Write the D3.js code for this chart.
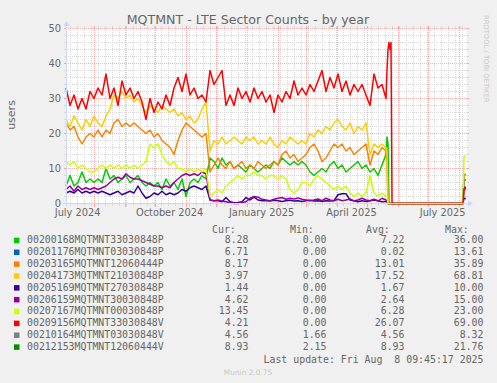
<!DOCTYPE html>
<html><head><meta charset="utf-8">
<script src="https://cdn.jsdelivr.net/npm/d3@7/dist/d3.min.js"></script>
<style>html,body{margin:0;padding:0;background:#F0F0F0;}svg{display:block}text{white-space:pre}</style>
</head><body>
<svg id="chart" width="497" height="383"></svg>
<script>
// ---------- data ----------
const seriesNames = ["00200168MQTMNT33030848P","00201176MQTMNT03030848P","00203165MQTMNT12060444P","00204173MQTMNT21030848P","00205169MQTMNT27030848P","00206159MQTMNT30030848P","00207167MQTMNT00030848P","00209156MQTMNT33030848V","00210164MQTMNT03030848V","00212153MQTMNT12060444V"];
const seriesColors = ["#00CC00","#0066B3","#FF8000","#FFCC00","#330099","#990099","#CCFF00","#FF0000","#808080","#008F00"];
const curValues = ["8.28","6.71","8.17","3.97","1.44","4.62","13.45","4.21","4.56","8.93"];
const minValues = ["0.00","0.00","0.00","0.00","0.00","0.00","0.00","0.00","1.66","2.15"];
const avgValues = ["7.22","0.02","13.01","17.52","1.67","2.64","6.28","26.07","4.56","8.93"];
const maxValues = ["36.00","13.61","35.89","68.81","10.00","15.00","23.00","69.00","8.32","21.76"];
const yTickValues = [0,10,20,30,40,50];
const xTickLabels = ["July 2024","October 2024","January 2025","April 2025","July 2025"];
const xTickMonths = ["2024-07","2024-10","2025-01","2025-04","2025-07"];
const lastUpdate = "Last update: Fri Aug  8 09:45:17 2025";

// samples every 4 days from the start of the graph window
const sampleStepDays = 4;
const greenMain = [5,8,5,6,9,6,7,6,7,6, 10,7,8,6,7,8,6,7,8,6, 5,6,5,6,4,7,5,6,4,7, 2,6,7,6,8,7,13,12,10,13, 11,12,10,11,10,9,11,10,9,10, 11,10,12,11,13,12,11,12,11,12, 11,9,8,9,10,9,11,12,10,11, 9,10,11,12,10,11,9,10,8,11, 14];
const blueMain = [];
const orangeMain = [23,21,22,19,17,19,20,19,21,19, 21,20,23,24,22,23,22,23,22,21, 20,21,19,20,18,17,16,14,18,21, 23,22,21,20,19,20,9,11,13,11, 10,12,10,11,12,10,11,10,12,11, 10,11,12,11,14,15,13,14,12,13, 14,16,17,15,12,13,15,17,16,17, 15,16,14,15,16,17,11,15,14,16, 15];
const yellowMain = [24,22,25,23,21,24,22,25,23,22, 25,27,31,30,32,30,31,29,30,28, 26,28,27,26,28,27,26,27,25,26, 24,25,23,24,27,29,15,18,17,19, 17,18,19,18,17,19,18,19,17,18, 17,19,17,16,18,17,19,18,17,18, 17,20,19,21,20,22,21,23,24,22, 21,23,20,22,21,23,14,17,16,17, 16];
const indigoMain = [3,3.5,3,4,3,3.5,3,3.5,3,3.5, 3,2.5,3,3.5,2.5,3,3.5,3,5,3, 1.5,2,3,2.5,3.5,2.5,3,2.5,3,4, 3.5,4.5,5,4.5,4,5,1,0.8,0.8,0.5, 1.7,0.5,0.2,0.3,0.5,1.7,1,1.8,1,0.8, 0.8,0.7,0.9,0.8,0.6,0.8,0.9,0.7,0.8,0.6, 0.8,0.9,0.7,0.8,0.6,0.8,0.7,0.8,2.5,2.8, 2.8,1,0.8,0.5,0.8,0.6,0.8,1,0.8,0.5, 0.6];
const purpleMain = [4,5,3.5,5,4,4.5,4,4.5,4,4.5, 5,6,7,7.5,7,8.5,7.5,7,7,6.5, 6,5.5,5,5,4.5,5,4.5,6,7,8, 8.5,8,8.5,8,9,8.5,1,0.8,1,0.7, 0.5,0.2,0,0,0.3,0.5,1.5,2,1.8,1.2, 1,0.8,1.2,1.5,1.7,1.2,1.5,1.3,1.6,1.2, 1,0.8,1,1.3,0.8,1.5,1,0.8,1.2,0.8, 1,1.3,0.7,1,1.5,1,0.8,1.2,0.7,1.5, 1];
const limeMain = [12,11,12,10,11,10,9,9,10,11, 10,11,10,11,10,11,10,11,10,11, 12,17,16,17,14,12,11,12,10,10, 9,10,9,10,9,10,2,3,4,3, 5,6,7,8,7,8,8,9,8,8, 7,8,8,7,8,7,4,3,4,6, 6,5,7,8,7,6,5,4,5,4, 5,3,2,3,2,3,8,3,2,3, 2];
const redMain = [33,28,31,27,30,27,32,30,33,31, 37,30,33,28,35,31,33,30,32,29, 24,30,26,29,27,31,28,33,36,32, 37,31,33,30,31,29,38,34,36,38, 28,31,28,33,30,32,29,33,30,32, 29,31,26,31,29,32,30,35,31,33, 31,34,32,35,38,32,36,33,37,32, 35,31,34,32,34,31,28,37,33,34, 30];
const grayMain = [];
const darkGreenMain = [];

// tail: days after the start of the window
const tailDays = [321,322,323,324,325,326,397,398,400];
const greenTail = [19,17,0,0,0,0,0,8.28,8.28];
const blueTail = [0,0,0,0,0,0,0,6.71,6.71];
const orangeTail = [12,0,0,0,0,0,0,8.17,8.17];
const yellowTail = [14,0,0,0,0,0,0,3.97,3.97];
const indigoTail = [0.5,0,0,0,0,0,0,1.44,1.44];
const purpleTail = [0.8,0,0,0,0,0,0,4.62,4.62];
const limeTail = [2,0,0,0,0,0,0,13.45,13.45];
const redTail = [38,44,46,44,46,0,0,4.21,4.21];
const grayTail = [null,null,null,null,null,null,null,null,4.56];
const darkGreenTail = [null,null,null,null,null,null,null,null,8.93];

const mains = [greenMain,blueMain,orangeMain,yellowMain,indigoMain,purpleMain,limeMain,redMain,grayMain,darkGreenMain];
const tails = [greenTail,blueTail,orangeTail,yellowTail,indigoTail,purpleTail,limeTail,redTail,grayTail,darkGreenTail];

// ---------- drawing ----------
const svg = d3.select('#chart');
const W = 497, H = 383;
const FONT = "'DejaVu Sans', sans-serif";
const MONO = "'DejaVu Sans Mono', monospace";
const TXT = '#666666';
svg.append('rect').attr('width', W).attr('height', H).attr('fill', '#F0F0F0');

const start = new Date(2024, 6, 4, 9, 45, 17);
const end = new Date(2025, 7, 8, 9, 45, 17);
const X0 = 66, X1 = 466, Y0 = 203.5, Y1 = 28.5;
const x = d3.scaleTime().domain([start, end]).range([X0, X1]);
const y = d3.scaleLinear().domain([0, 50]).range([Y0, Y1]);
const px = v => Math.round(v) + 0.5;

// canvas
svg.append('rect').attr('x', X0).attr('y', 28).attr('width', X1 - X0 + 1).attr('height', 175).attr('fill', '#FFFFFF');

const grid = svg.append('g');
const minorCol = '#D8D8D8', majorCol = 'rgba(255,40,40,0.38)';
// horizontal minor
y.ticks(25).filter(v => v % 10 !== 0).forEach(v => {
  const yy = y(v);
  grid.append('line').attr('x1', X0).attr('x2', X1 + 1).attr('y1', yy).attr('y2', yy)
    .attr('stroke', minorCol).attr('stroke-dasharray', '1,1');
  grid.append('line').attr('x1', X0 - 2).attr('x2', X0).attr('y1', yy).attr('y2', yy).attr('stroke', minorCol);
  grid.append('line').attr('x1', X1 + 1).attr('x2', X1 + 3).attr('y1', yy).attr('y2', yy).attr('stroke', minorCol);
});
// vertical minor (weeks)
const months = d3.timeMonth.range(start, end);
d3.timeMonday.range(start, end).forEach(d => {
  const xx = px(x(d));
  grid.append('line').attr('x1', xx).attr('x2', xx).attr('y1', 28).attr('y2', 203)
    .attr('stroke', minorCol).attr('stroke-dasharray', '1,1');
  grid.append('line').attr('x1', xx).attr('x2', xx).attr('y1', 204).attr('y2', 206).attr('stroke', minorCol);
  grid.append('line').attr('x1', xx).attr('x2', xx).attr('y1', 26).attr('y2', 28).attr('stroke', minorCol);
});
// horizontal major
yTickValues.forEach(v => {
  const yy = y(v);
  grid.append('line').attr('x1', X0).attr('x2', X1 + 1).attr('y1', yy).attr('y2', yy)
    .attr('stroke', majorCol).attr('stroke-dasharray', '1,1');
  grid.append('line').attr('x1', X0 - 2).attr('x2', X0).attr('y1', yy).attr('y2', yy).attr('stroke', majorCol);
  grid.append('line').attr('x1', X1 + 1).attr('x2', X1 + 3).attr('y1', yy).attr('y2', yy).attr('stroke', majorCol);
});
// vertical major (months)
months.forEach(d => {
  const xx = px(x(d));
  grid.append('line').attr('x1', xx).attr('x2', xx).attr('y1', 28).attr('y2', 203)
    .attr('stroke', majorCol).attr('stroke-dasharray', '1,1');
  grid.append('line').attr('x1', xx).attr('x2', xx).attr('y1', 204).attr('y2', 207).attr('stroke', majorCol);
  grid.append('line').attr('x1', xx).attr('x2', xx).attr('y1', 26).attr('y2', 28).attr('stroke', majorCol);
});

// series
const line = d3.line().defined(d => d.v != null).x(d => x(d.date)).y(d => y(d.v));
const gLines = svg.append('g');
seriesNames.forEach((name, k) => {
  const pts = [];
  mains[k].forEach((v, i) => pts.push({date: d3.timeDay.offset(start, i * sampleStepDays), v: v}));
  tailDays.forEach((dd, i) => pts.push({date: d3.timeDay.offset(start, dd), v: tails[k][i]}));
  gLines.append('path').datum(pts).attr('d', line).attr('fill', 'none')
    .attr('stroke', seriesColors[k]).attr('stroke-width', 1.5).attr('stroke-linejoin', 'round');
});

// axes
const axisCol = '#CFD6F8';
svg.append('line').attr('x1', X0 - 3).attr('x2', X1 + 3).attr('y1', Y0).attr('y2', Y0).attr('stroke', axisCol);
svg.append('path').attr('d', `M${X1 + 2},${Y0 - 3} L${X1 + 7},${Y0} L${X1 + 2},${Y0 + 3} Z`).attr('fill', axisCol);
svg.append('line').attr('x1', X0 + 0.5).attr('x2', X0 + 0.5).attr('y1', Y0 + 3).attr('y2', Y1 - 3).attr('stroke', axisCol);
svg.append('path').attr('d', `M${X0 - 2.5},${Y1 - 2.5} L${X0 + 0.5},${Y1 - 7.5} L${X0 + 3.5},${Y1 - 2.5} Z`).attr('fill', axisCol);

// y labels
yTickValues.forEach(v => {
  svg.append('text').attr('x', 61).attr('y', y(v) + 3.3).attr('text-anchor', 'end')
    .attr('font-family', FONT).attr('font-size', 9.8).attr('fill', TXT).text(v);
});
// x labels (centred half a month after the month start)
const parseM = d3.timeParse('%Y-%m');
xTickMonths.forEach((m, i) => {
  const d = parseM(m);
  const mid = new Date(d.getTime() + 15 * 86400000);
  svg.append('text').attr('x', x(mid)).attr('y', 215.8).attr('text-anchor', 'middle')
    .attr('font-family', FONT).attr('font-size', 9.8).attr('fill', TXT).text(xTickLabels[i]);
});

// title
svg.append('text').attr('x', 248).attr('y', 24).attr('text-anchor', 'middle')
  .attr('font-family', FONT).attr('font-size', 12.6).attr('fill', TXT).text('MQTMNT - LTE Sector Counts - by year');
// y title
svg.append('text').attr('transform', 'translate(15,115) rotate(-90)').attr('text-anchor', 'middle')
  .attr('font-family', FONT).attr('font-size', 11).attr('fill', TXT).text('users');
// watermark
svg.append('text').attr('transform', 'translate(484,15) rotate(90)').attr('text-anchor', 'start')
  .attr('font-family', FONT).attr('font-size', 6.8).attr('fill', '#C8C8C8').text('RRDTOOL / TOBI OETIKER');

// legend
const headX = [212, 290, 366, 445];
['Cur:', 'Min:', 'Avg:', 'Max:'].forEach((h, i) => {
  svg.append('text').attr('x', headX[i]).attr('y', 232.5).attr('font-family', MONO).attr('font-size', 9.9)
    .attr('fill', TXT).text(h);
});
const valX = [248.5, 326.5, 404.5, 483.5];
const cols = [curValues, minValues, avgValues, maxValues];
seriesNames.forEach((name, k) => {
  const by = 243.3 + k * 11.85;
  svg.append('rect').attr('x', 14).attr('y', by - 5.6).attr('width', 5.5).attr('height', 5.5)
    .attr('fill', seriesColors[k]);
  svg.append('text').attr('x', 27).attr('y', by).attr('font-family', MONO).attr('font-size', 9.9)
    .attr('fill', TXT).text(name);
  cols.forEach((c, j) => {
    svg.append('text').attr('x', valX[j]).attr('y', by).attr('text-anchor', 'end').attr('font-family', MONO)
      .attr('font-size', 9.9).attr('fill', TXT).text(c[k]);
  });
});
svg.append('text').attr('x', 483.5).attr('y', 363.3).attr('text-anchor', 'end').attr('font-family', MONO)
  .attr('font-size', 9.9).attr('fill', TXT).text(lastUpdate);
svg.append('text').attr('x', 248).attr('y', 375).attr('text-anchor', 'middle').attr('font-family', FONT)
  .attr('font-size', 7.4).attr('fill', '#C8C8C8').text('Munin 2.0.75');
</script>
</body></html>
